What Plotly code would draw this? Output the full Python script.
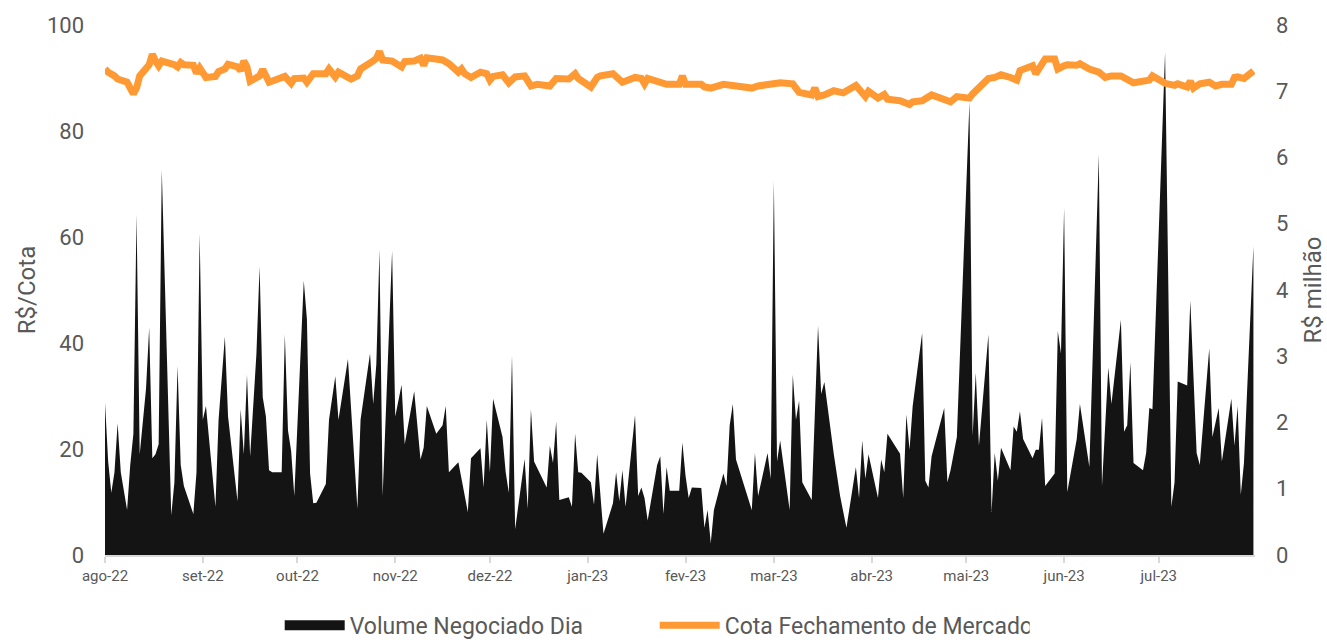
import plotly.graph_objects as go

# ---- Volume negociado (R$ milhão) ----
vol_datas = [
    "2022-08-01","2022-08-02","2022-08-03","2022-08-04","2022-08-05","2022-08-06","2022-08-08","2022-08-09",
    "2022-08-10","2022-08-11","2022-08-12","2022-08-14","2022-08-15","2022-08-16","2022-08-17","2022-08-18",
    "2022-08-19","2022-08-22","2022-08-23","2022-08-24","2022-08-25","2022-08-26","2022-08-29","2022-08-30",
    "2022-08-31",
    "2022-09-01","2022-09-02","2022-09-05","2022-09-06","2022-09-08","2022-09-09","2022-09-12","2022-09-13",
    "2022-09-14","2022-09-15","2022-09-16","2022-09-18","2022-09-19","2022-09-20","2022-09-21","2022-09-22",
    "2022-09-23","2022-09-26","2022-09-27","2022-09-28","2022-09-29","2022-09-30",
    "2022-10-03","2022-10-04","2022-10-05","2022-10-06","2022-10-07","2022-10-10","2022-10-11","2022-10-13",
    "2022-10-14","2022-10-17","2022-10-20","2022-10-21","2022-10-24","2022-10-25","2022-10-26","2022-10-27",
    "2022-10-28","2022-10-31",
    "2022-11-01","2022-11-03","2022-11-04","2022-11-07","2022-11-09","2022-11-10","2022-11-11","2022-11-14",
    "2022-11-16","2022-11-17","2022-11-18","2022-11-21","2022-11-24","2022-11-25","2022-11-28","2022-11-29",
    "2022-11-30",
    "2022-12-01","2022-12-02","2022-12-05","2022-12-06","2022-12-07","2022-12-08","2022-12-09","2022-12-12",
    "2022-12-13","2022-12-14","2022-12-15","2022-12-16","2022-12-19","2022-12-20","2022-12-21","2022-12-22",
    "2022-12-23","2022-12-26","2022-12-27","2022-12-28","2022-12-29","2022-12-30",
    "2023-01-02","2023-01-03","2023-01-04","2023-01-06","2023-01-09","2023-01-10","2023-01-11","2023-01-12",
    "2023-01-13","2023-01-16","2023-01-17","2023-01-18","2023-01-19","2023-01-20","2023-01-23","2023-01-24",
    "2023-01-25","2023-01-26","2023-01-27","2023-01-30","2023-01-31",
    "2023-02-01","2023-02-02","2023-02-03","2023-02-06","2023-02-07","2023-02-08","2023-02-09","2023-02-10",
    "2023-02-13","2023-02-14","2023-02-15","2023-02-16","2023-02-17","2023-02-22","2023-02-23","2023-02-24",
    "2023-02-27","2023-02-28",
    "2023-03-01","2023-03-02","2023-03-03","2023-03-06","2023-03-07","2023-03-08","2023-03-09","2023-03-10",
    "2023-03-13","2023-03-15","2023-03-16","2023-03-17","2023-03-20","2023-03-22","2023-03-24","2023-03-27",
    "2023-03-28","2023-03-29","2023-03-30","2023-03-31",
    "2023-04-03","2023-04-04","2023-04-05","2023-04-06","2023-04-10","2023-04-11","2023-04-12","2023-04-13",
    "2023-04-14","2023-04-17","2023-04-18","2023-04-19","2023-04-20","2023-04-24","2023-04-25","2023-04-26",
    "2023-04-28",
    "2023-05-02","2023-05-03","2023-05-04","2023-05-05","2023-05-08","2023-05-09","2023-05-10","2023-05-11",
    "2023-05-12","2023-05-15","2023-05-16","2023-05-17","2023-05-18","2023-05-19","2023-05-22","2023-05-23",
    "2023-05-24","2023-05-25","2023-05-26","2023-05-29","2023-05-30","2023-05-31",
    "2023-06-01","2023-06-02","2023-06-05","2023-06-06","2023-06-09","2023-06-12","2023-06-13","2023-06-15",
    "2023-06-16","2023-06-19","2023-06-20","2023-06-21","2023-06-22","2023-06-23","2023-06-26","2023-06-27",
    "2023-06-28","2023-06-29",
    "2023-07-03","2023-07-05","2023-07-06","2023-07-07","2023-07-10","2023-07-11","2023-07-13","2023-07-14",
    "2023-07-17","2023-07-18","2023-07-20","2023-07-21","2023-07-24","2023-07-25","2023-07-26","2023-07-27",
    "2023-07-28","2023-07-31",
]
vol_valores = [
    2.30,1.41,0.94,1.25,1.99,1.25,0.68,1.36,
    1.83,5.14,1.52,2.51,3.43,1.46,1.52,1.67,
    5.81,0.60,1.10,2.85,1.36,1.04,0.62,1.25,
    4.85,
    2.04,2.25,0.73,2.04,3.30,2.09,0.81,2.20,
    1.52,2.72,1.49,3.04,4.35,2.38,2.09,1.28,
    1.25,1.25,3.33,1.88,1.57,0.89,
    4.14,3.56,1.23,0.78,0.79,1.07,2.04,2.70,
    2.04,2.96,0.70,2.04,3.04,2.28,2.88,4.61,
    0.89,4.59,
    2.09,2.57,1.67,2.47,1.44,1.62,2.25,1.83,
    1.96,2.25,1.25,1.40,0.65,1.46,1.61,1.02,
    2.04,
    1.25,2.36,1.78,1.25,0.94,3.01,0.39,1.45,
    0.70,2.20,1.41,1.31,1.02,1.65,1.39,2.01,
    0.83,0.87,0.73,1.83,1.25,1.24,
    1.10,0.76,1.52,0.32,0.78,1.25,0.81,1.28,
    0.73,2.11,0.89,1.02,0.86,0.52,1.36,1.49,
    0.62,1.33,0.97,0.97,1.70,
    1.20,0.86,1.02,1.01,0.41,0.68,0.18,0.68,
    1.23,1.04,1.96,2.28,1.44,0.68,1.54,0.89,
    1.54,1.15,
    5.65,1.41,1.73,0.68,2.72,2.04,2.33,1.10,
    0.83,3.46,2.43,2.61,1.52,0.89,0.41,1.33,
    0.86,1.73,1.15,1.52,
    0.86,1.44,1.25,1.83,1.53,0.86,2.12,1.59,
    2.25,3.35,1.12,1.02,1.49,2.22,1.10,1.28,
    1.78,
    6.84,1.80,2.75,1.65,3.33,0.65,1.54,1.12,
    1.62,1.28,1.94,1.86,2.17,1.75,1.46,1.59,
    1.59,2.07,1.04,1.23,3.38,3.04,
    5.24,0.95,1.75,2.28,1.33,6.05,1.04,2.83,
    2.28,3.55,1.86,1.96,2.91,1.39,1.28,1.54,
    2.22,2.20,
    7.59,0.73,1.10,2.62,2.56,3.84,1.54,1.36,
    3.12,1.78,2.22,1.41,2.36,1.65,2.25,0.91,
    1.39,4.66,
]

# ---- Cota de fechamento (R$/Cota) ----
cota_datas = [
    "2022-08-01","2022-08-02","2022-08-04","2022-08-05","2022-08-08","2022-08-09","2022-08-10","2022-08-11",
    "2022-08-12","2022-08-15","2022-08-16","2022-08-17","2022-08-18","2022-08-19","2022-08-22","2022-08-23",
    "2022-08-24","2022-08-25","2022-08-26","2022-08-29","2022-08-30","2022-08-31",
    "2022-09-02","2022-09-05","2022-09-06","2022-09-08","2022-09-09","2022-09-12","2022-09-13","2022-09-14",
    "2022-09-15","2022-09-16","2022-09-19","2022-09-20","2022-09-22","2022-09-23","2022-09-26","2022-09-27",
    "2022-09-29","2022-09-30",
    "2022-10-03","2022-10-04","2022-10-06","2022-10-10","2022-10-11","2022-10-13","2022-10-14","2022-10-18",
    "2022-10-20","2022-10-21","2022-10-25","2022-10-26","2022-10-27","2022-10-28","2022-10-31",
    "2022-11-03","2022-11-04","2022-11-07","2022-11-09","2022-11-10","2022-11-11","2022-11-14","2022-11-16",
    "2022-11-18","2022-11-21","2022-11-22","2022-11-23","2022-11-25","2022-11-28","2022-11-30",
    "2022-12-01","2022-12-02","2022-12-05","2022-12-07","2022-12-09","2022-12-12","2022-12-14","2022-12-16",
    "2022-12-20","2022-12-22","2022-12-26","2022-12-28","2022-12-29",
    "2023-01-02","2023-01-04","2023-01-05","2023-01-09","2023-01-12","2023-01-16","2023-01-18","2023-01-19",
    "2023-01-20","2023-01-24","2023-01-26","2023-01-30","2023-01-31",
    "2023-02-01","2023-02-03","2023-02-06","2023-02-07","2023-02-09","2023-02-13","2023-02-16","2023-02-22",
    "2023-02-24","2023-02-28",
    "2023-03-03","2023-03-07","2023-03-09","2023-03-13","2023-03-14","2023-03-15","2023-03-17","2023-03-20",
    "2023-03-23","2023-03-27","2023-03-30","2023-03-31",
    "2023-04-03","2023-04-05","2023-04-06","2023-04-10","2023-04-11","2023-04-13","2023-04-14","2023-04-17",
    "2023-04-20","2023-04-24","2023-04-26","2023-04-28",
    "2023-05-02","2023-05-03","2023-05-05","2023-05-08","2023-05-10","2023-05-12","2023-05-15","2023-05-17",
    "2023-05-18","2023-05-19","2023-05-22","2023-05-23","2023-05-25","2023-05-26","2023-05-29","2023-05-30",
    "2023-06-01","2023-06-02","2023-06-05","2023-06-06","2023-06-09","2023-06-12","2023-06-14","2023-06-16",
    "2023-06-19","2023-06-21","2023-06-22","2023-06-23","2023-06-28","2023-06-29",
    "2023-07-03","2023-07-06","2023-07-07","2023-07-10","2023-07-11","2023-07-12","2023-07-14","2023-07-17",
    "2023-07-19","2023-07-21","2023-07-24","2023-07-25","2023-07-26","2023-07-28","2023-07-31",
]
cota_valores = [
    91.7,91.1,90.4,89.8,89.2,87.8,87.0,88.1,
    90.4,92.5,94.5,93.2,92.3,93.2,92.9,92.5,
    92.1,92.9,92.5,92.4,90.9,91.9,
    90.1,90.3,91.2,91.7,92.6,92.1,91.4,93.2,
    92.1,89.4,90.4,91.6,89.2,89.4,89.8,90.3,
    89.0,89.9,
    90.0,89.2,90.8,90.8,91.7,90.2,91.1,89.8,
    90.4,91.7,93.2,93.7,95.0,93.4,93.2,
    92.1,93.1,93.2,93.7,92.4,93.8,93.4,93.4,
    92.7,91.1,91.7,90.8,90.1,91.1,90.8,
    89.6,90.3,90.6,89.1,90.2,90.4,88.5,88.8,
    88.5,89.9,89.8,90.8,89.9,
    88.3,90.1,90.4,90.8,89.2,90.1,89.9,88.9,
    89.9,89.2,88.8,88.8,90.4,
    88.8,88.8,88.8,88.3,88.1,88.8,88.5,88.1,
    88.5,88.9,
    89.1,88.9,87.3,86.8,88.1,86.5,86.8,87.6,
    87.2,88.6,86.5,87.5,
    86.2,86.9,86.0,85.7,85.5,85.0,85.5,85.7,
    86.8,86.0,85.5,86.5,
    86.2,87.0,88.1,89.9,90.1,90.6,90.1,89.6,
    91.4,91.7,92.3,90.8,92.4,93.6,93.6,91.7,
    92.3,92.5,92.4,92.7,91.7,91.1,90.1,90.4,
    90.4,89.8,89.4,89.1,89.6,90.4,
    89.0,88.6,88.9,88.3,89.4,88.1,88.9,89.2,
    88.5,88.8,88.8,90.1,90.2,89.9,91.3,
]

# ---- Eixo X ----
mes_inicio = ["2022-08-01","2022-09-01","2022-10-01","2022-11-01","2022-12-01","2023-01-01",
              "2023-02-01","2023-03-01","2023-04-01","2023-05-01","2023-06-01","2023-07-01"]
mes_rotulo = ["ago-22","set-22","out-22","nov-22","dez-22","jan-23",
              "fev-23","mar-23","abr-23","mai-23","jun-23","jul-23"]

FONT = "Roboto"
GRAY = "#595959"
BLACK = "#141414"
ORANGE = "#FF9933"

fig = go.Figure()
fig.add_trace(go.Scatter(
    x=vol_datas, y=vol_valores, name="Volume Negociado Dia",
    mode="lines", line=dict(width=0, color=BLACK),
    fill="tozeroy", fillcolor=BLACK, yaxis="y", showlegend=False,
))
# legend entry for the area (thick block symbol)
fig.add_trace(go.Scatter(
    x=[None], y=[None], name="Volume Negociado Dia",
    mode="lines", line=dict(width=15, color=BLACK), yaxis="y", showlegend=True,
))
fig.add_trace(go.Scatter(
    x=cota_datas, y=cota_valores, name="Cota Fechamento de Mercado",
    mode="lines", line=dict(width=7, color=ORANGE), yaxis="y2",
))

fig.update_layout(
    width=1327, height=640,
    margin=dict(l=105, r=72, t=25, b=85, autoexpand=False),
    paper_bgcolor="white", plot_bgcolor="white",
    font=dict(family=FONT, color=GRAY),
    showlegend=True,
    legend=dict(orientation="h", x=0.478, xanchor="center", y=-0.092, yanchor="top",
                font=dict(size=23, color=GRAY), itemwidth=60,
                entrywidth=300, entrywidthmode="pixels"),
    xaxis=dict(type="date", range=["2022-08-01", "2023-07-31 12:00"],
               tickvals=mes_inicio, ticktext=mes_rotulo,
               ticks="outside", ticklen=6, tickcolor="#d9d9d9", tickwidth=2,
               showline=True, linecolor="#d9d9d9", linewidth=2,
               showgrid=False, zeroline=False,
               tickfont=dict(size=15, color=GRAY)),
    yaxis=dict(range=[0, 8], dtick=1, side="right", showgrid=False, zeroline=False,
               showline=False, ticks="", ticklabelstandoff=20,
               tickfont=dict(size=22, color=GRAY),
               title=dict(text="R$ milhão", font=dict(size=24, color=GRAY), standoff=18)),
    yaxis2=dict(range=[0, 100], dtick=20, side="left", overlaying="y",
                showgrid=False, zeroline=False, showline=False, ticks="",
                ticklabelstandoff=20,
                tickfont=dict(size=22, color=GRAY),
                title=dict(text="R$/Cota", font=dict(size=24, color=GRAY), standoff=4)),
)

fig.write_html("out.html", config={"displayModeBar": False},
               post_script="document.body.style.margin='0px';")
